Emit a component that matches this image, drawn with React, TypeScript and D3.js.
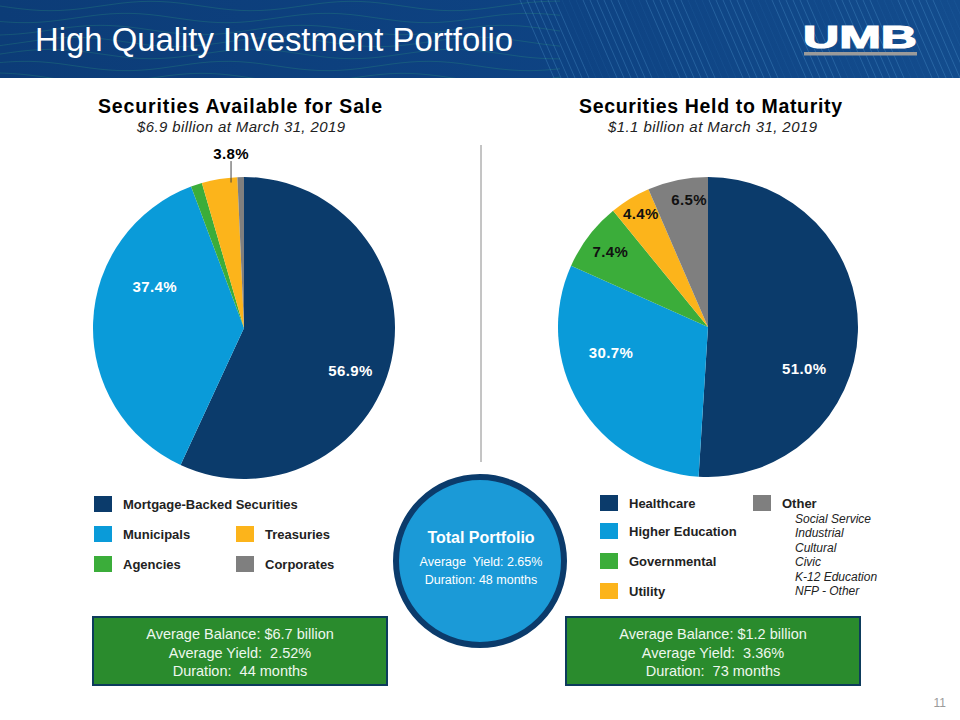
import React from "react";
import * as d3 from "d3";

// ---------- data ----------
const afsCategories = ["Mortgage-Backed Securities", "Municipals", "Agencies", "Treasuries", "Corporates"];
const afsValues = [56.9, 37.4, 1.2, 3.8, 0.7];
const afsLabels = ["56.9%", "37.4%", "", "3.8%", ""];

const htmCategories = ["Healthcare", "Higher Education", "Governmental", "Utility", "Other"];
const htmValues = [51.0, 30.7, 7.4, 4.4, 6.5];
const htmLabels = ["51.0%", "30.7%", "7.4%", "4.4%", "6.5%"];
const htmOtherItems = ["Social Service", "Industrial", "Cultural", "Civic", "K-12 Education", "NFP - Other"];

const afsTitle = "Securities Available for Sale";
const afsSubtitle = "$6.9 billion at March 31, 2019";
const htmTitle = "Securities Held to Maturity";
const htmSubtitle = "$1.1 billion at March 31, 2019";

const afsSummary = ["Average Balance: $6.7 billion", "Average Yield:  2.52%", "Duration:  44 months"];
const htmSummary = ["Average Balance: $1.2 billion", "Average Yield:  3.36%", "Duration:  73 months"];
const totalTitle = "Total Portfolio";
const totalLines = ["Average  Yield: 2.65%", "Duration: 48 months"];

// ---------- style ----------
const FONT = "'Liberation Sans', Arial, Helvetica, sans-serif";
const NAVY = "#0B3B6B";
const LBLUE = "#0A9BD9";
const GREEN = "#3BAD3A";
const ORANGE = "#FCB41B";
const GRAY = "#7F7F7F";
const afsColors = [NAVY, LBLUE, GREEN, ORANGE, GRAY];
const htmColors = [NAVY, LBLUE, GREEN, ORANGE, GRAY];
const afsLabelColors = ["#fff", "#fff", "#000", "#000", "#000"];
const htmLabelColors = ["#fff", "#fff", "#111", "#111", "#111"];
// label placement: radius fraction and angular shift (deg) from slice mid-angle
const afsPlace = [
  { rf: 0.76, shift: 9.5 },
  { rf: 0.65, shift: 22.5 },
  { rf: 0.7, shift: 0 },
  { rf: 1.155, shift: 5.1, leader: true },
  { rf: 0.7, shift: 0 },
];
const htmPlace = [
  { rf: 0.7, shift: 21.8 },
  { rf: 0.67, shift: 16 },
  { rf: 0.82, shift: 0 },
  { rf: 0.875, shift: 0.6 },
  { rf: 0.855, shift: 3.2 },
];

type Place = { rf: number; shift: number; leader?: boolean };

function Pie(props: {
  cx: number; cy: number; r: number; values: number[]; colors: string[];
  labels: string[]; labelColors: string[]; place: Place[];
}) {
  const { cx, cy, r, values, colors, labels, labelColors, place } = props;
  const arcs = d3.pie<number>().sort(null).value((d) => d)(values);
  const arc = d3.arc<d3.PieArcDatum<number>>().innerRadius(0).outerRadius(r);
  return (
    <g>
      <g transform={`translate(${cx},${cy})`}>
        {arcs.map((a, i) => (
          <path key={i} d={arc(a) || ""} fill={colors[i]} />
        ))}
      </g>
      {arcs.map((a, i) => {
        if (!labels[i]) return null;
        const p = place[i];
        const ang = (a.startAngle + a.endAngle) / 2 + (p.shift * Math.PI) / 180;
        const x = cx + p.rf * r * Math.sin(ang);
        const y = cy - p.rf * r * Math.cos(ang);
        const edgeY = cy - Math.sqrt(Math.max(0, r * r - (x - cx) * (x - cx)));
        return (
          <g key={i}>
            {p.leader && (
              <line x1={x} x2={x} y1={y + 7} y2={edgeY + 5} stroke="#444" strokeWidth={1} />
            )}
            <text x={x} y={y} dy="0.35em" textAnchor="middle" fontFamily={FONT} fontWeight="bold"
              fontSize={15} letterSpacing={0.4} fill={labelColors[i]}>{labels[i]}</text>
          </g>
        );
      })}
    </g>
  );
}

function Header() {
  const waves: string[] = [];
  const line = d3.line<[number, number]>().curve(d3.curveBasis);
  for (let k = 0; k < 7; k++) {
    const pts: [number, number][] = [];
    for (let x = 0; x <= 560; x += 20) {
      pts.push([x, 6 + k * 12 + 5 * Math.sin((x + k * 25) / 32)]);
    }
    waves.push(line(pts) || "");
  }
  const diag: number[] = [];
  for (let x = 520; x < 1000; x += 7) diag.push(x);
  return (
    <g>
      <defs>
        <linearGradient id="hdr" x1="0" x2="1" y1="0" y2="0">
          <stop offset="0" stopColor="#0C3C77" />
          <stop offset="0.6" stopColor="#0E4383" />
          <stop offset="1" stopColor="#134C8D" />
        </linearGradient>
        <clipPath id="hclip"><rect x={0} y={0} width={960} height={78} /></clipPath>
      </defs>
      <rect x={0} y={0} width={960} height={78} fill="url(#hdr)" />
      <g clipPath="url(#hclip)">
        {waves.map((d, i) => (
          <path key={i} d={d} fill="none" stroke="#2E9A7A" strokeOpacity={0.28} strokeWidth={1} />
        ))}
        {diag.map((x, i) => (
          <line key={i} x1={x} y1={0} x2={x + 34} y2={78}
            stroke="#5FA8E0" strokeOpacity={(i % 9) < 6 ? 0.28 : 0.08} strokeWidth={1} />
        ))}
      </g>
      <text x={35} y={51} fontFamily={FONT} fontSize={34} fill="#fff" textLength={478}
        lengthAdjust="spacingAndGlyphs">High Quality Investment Portfolio</text>
      <text x={803} y={48} fontFamily={FONT} fontWeight="900" fontSize={31} fill="#fff"
        textLength={114} lengthAdjust="spacingAndGlyphs" stroke="#fff" strokeWidth={1.2}>UMB</text>
      <rect x={804} y={52} width={113} height={3.5} fill="#9A9A9A" />
    </g>
  );
}

function LegendItem(props: { x: number; y: number; color: string; label: string }) {
  const { x, y, color, label } = props;
  return (
    <g>
      <rect x={x} y={y} width={18} height={16} fill={color} />
      <text x={x + 29} y={y + 13} fontFamily={FONT} fontWeight="bold" fontSize={13} fill="#222">{label}</text>
    </g>
  );
}

function SummaryBox(props: { x: number; y: number; w: number; h: number; lines: string[] }) {
  const { x, y, w, h, lines } = props;
  return (
    <g>
      <rect x={x} y={y} width={w} height={h} fill="#2A8B2D" stroke="#0D3B5C" strokeWidth={2} />
      {lines.map((t, i) => (
        <text key={i} x={x + w / 2} y={y + 22 + i * 18.5} textAnchor="middle" fontFamily={FONT}
          fontSize={14.5} fill="#EEF7EE" style={{ whiteSpace: "pre" }}>{t}</text>
      ))}
    </g>
  );
}

export default function App() {
  return (
    <div style={{ position: "absolute", left: 0, top: 0 }}>
      <svg width={960} height={720} style={{ display: "block", background: "#fff" }}>
        <rect x={0} y={0} width={960} height={720} fill="#fff" />
        <Header />

        {/* titles */}
        <text x={98} y={113} fontFamily={FONT} fontWeight="bold" fontSize={19.5}
          fill="#000" textLength={284} lengthAdjust="spacing">{afsTitle}</text>
        <text x={137} y={132} fontFamily={FONT} fontStyle="italic" fontSize={15}
          fill="#222" textLength={208} lengthAdjust="spacing">{afsSubtitle}</text>
        <text x={579} y={113} fontFamily={FONT} fontWeight="bold" fontSize={19.5}
          fill="#000" textLength={263} lengthAdjust="spacing">{htmTitle}</text>
        <text x={608} y={132} fontFamily={FONT} fontStyle="italic" fontSize={15}
          fill="#222" textLength={209} lengthAdjust="spacing">{htmSubtitle}</text>

        {/* divider */}
        <line x1={481} x2={481} y1={145} y2={462} stroke="#8A8A8A" strokeWidth={1} />

        <Pie cx={244} cy={328} r={151} values={afsValues} colors={afsColors} labels={afsLabels}
          labelColors={afsLabelColors} place={afsPlace} />
        <Pie cx={708} cy={327} r={150} values={htmValues} colors={htmColors} labels={htmLabels}
          labelColors={htmLabelColors} place={htmPlace} />

        {/* left legend */}
        <LegendItem x={94} y={496} color={afsColors[0]} label={afsCategories[0]} />
        <LegendItem x={94} y={526} color={afsColors[1]} label={afsCategories[1]} />
        <LegendItem x={236} y={526} color={afsColors[3]} label={afsCategories[3]} />
        <LegendItem x={94} y={556} color={afsColors[2]} label={afsCategories[2]} />
        <LegendItem x={236} y={556} color={afsColors[4]} label={afsCategories[4]} />

        {/* right legend */}
        <LegendItem x={600} y={495} color={htmColors[0]} label={htmCategories[0]} />
        <LegendItem x={600} y={523} color={htmColors[1]} label={htmCategories[1]} />
        <LegendItem x={600} y={553} color={htmColors[2]} label={htmCategories[2]} />
        <LegendItem x={600} y={583} color={htmColors[3]} label={htmCategories[3]} />
        <LegendItem x={753} y={495} color={htmColors[4]} label={htmCategories[4]} />
        {htmOtherItems.map((t, i) => (
          <text key={t} x={795} y={523 + i * 14.4} fontFamily={FONT} fontStyle="italic" fontSize={12}
            fill="#222">{t}</text>
        ))}

        {/* total portfolio */}
        <circle cx={480} cy={561} r={84} fill="#1B9AD7" stroke="#0B3B6B" strokeWidth={6} />
        <text x={481} y={543} textAnchor="middle" fontFamily={FONT} fontWeight="bold" fontSize={16}
          fill="#fff">{totalTitle}</text>
        {totalLines.map((t, i) => (
          <text key={i} x={481} y={566 + i * 18} textAnchor="middle" fontFamily={FONT} fontSize={12.5}
            fill="#fff" style={{ whiteSpace: "pre" }}>{t}</text>
        ))}

        <SummaryBox x={93} y={617} w={294} h={68} lines={afsSummary} />
        <SummaryBox x={566} y={617} w={294} h={68} lines={htmSummary} />

        <text x={946} y={707} textAnchor="end" fontFamily={FONT} fontSize={12} fill="#9A9A9A">11</text>
      </svg>
    </div>
  );
}
